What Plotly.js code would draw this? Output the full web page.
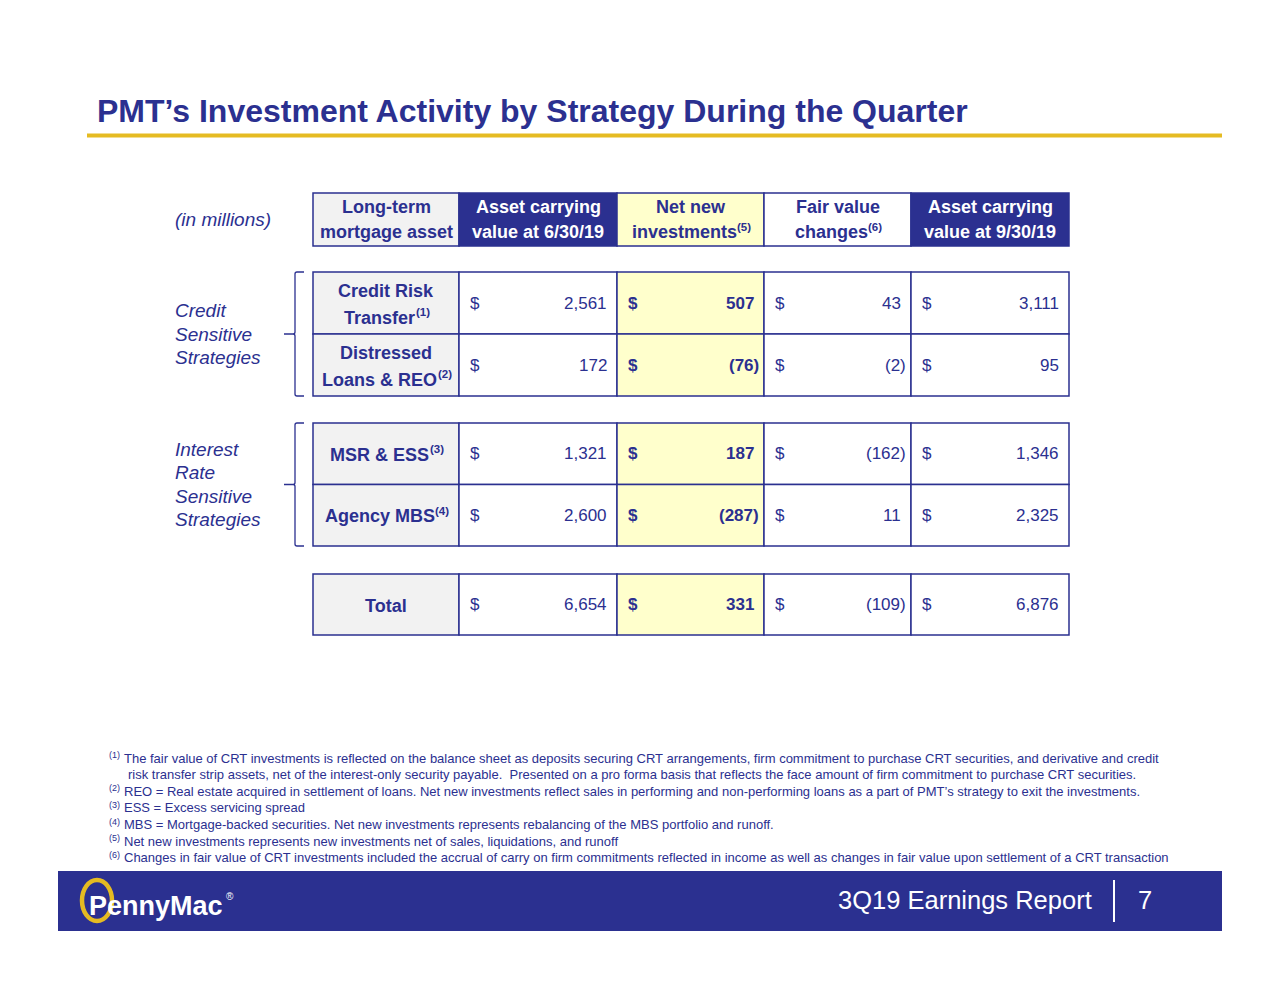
<!DOCTYPE html>
<html><head><meta charset="utf-8">
<script src="https://cdn.plot.ly/plotly-3.0.1.min.js"></script>
<style>html,body{margin:0;padding:0;background:#fff;overflow:hidden}#chart{width:1280px;height:989px}</style>
</head><body><div id="chart"></div>
<script>
// ---------------- DATA ----------------
const slideTitle = "PMT’s Investment Activity by Strategy During the Quarter";
const unitsLabel = "(in millions)";
const headerLines = [["Long-term", "mortgage asset"], ["Asset carrying", "value at 6/30/19"], ["Net new", "investments"], ["Fair value", "changes"], ["Asset carrying", "value at 9/30/19"]];
const headerNotes = ["", "", "(5)", "(6)", ""];
const strategyLines = [["Credit Risk", "Transfer"], ["Distressed", "Loans & REO"], ["MSR & ESS"], ["Agency MBS"]];
const strategyNotes = ["(1)", "(2)", "(3)", "(4)"];
const strategyGroup = [0, 0, 1, 1];
const groupLabels = [["Credit", "Sensitive", "Strategies"], ["Interest", "Rate", "Sensitive", "Strategies"]];
const carryingJun30 = [2561, 172, 1321, 2600];
const netNewInvestments = [507, -76, 187, -287];
const fairValueChanges = [43, -2, -162, 11];
const carryingSep30 = [3111, 95, 1346, 2325];
const totalLabel = "Total";
const totals = [6654, 331, -109, 6876];
const footnoteMarks = ["(1)", "", "(2)", "(3)", "(4)", "(5)", "(6)"];
const footnoteTexts = [
  "The fair value of CRT investments is reflected on the balance sheet as deposits securing CRT arrangements, firm commitment to purchase CRT securities, and derivative and credit",
  "risk transfer strip assets, net of the interest-only security payable.  Presented on a pro forma basis that reflects the face amount of firm commitment to purchase CRT securities.",
  "REO = Real estate acquired in settlement of loans. Net new investments reflect sales in performing and non-performing loans as a part of PMT’s strategy to exit the investments.",
  "ESS = Excess servicing spread",
  "MBS = Mortgage-backed securities. Net new investments represents rebalancing of the MBS portfolio and runoff.",
  "Net new investments represents new investments net of sales, liquidations, and runoff",
  "Changes in fair value of CRT investments included the accrual of carry on firm commitments reflected in income as well as changes in fair value upon settlement of a CRT transaction"
];
const footerText = "3Q19 Earnings Report";
const pageNumber = "7";
const logoText = "PennyMac";

// ---------------- STYLE / LAYOUT ----------------
const NAVY = "#2b3090", GOLD = "#e5bb22", GRAY = "#f2f2f2", YELLOW = "#ffffcc", WHITE = "#ffffff";
const FONT = "Liberation Sans, Arial, Helvetica, sans-serif";
const colEdges = [313, 459, 617, 764, 911, 1069];
const headerBand = [193, 246];
const groupBands = [[272, 396], [423, 546]];
const totalBand = [574, 635];
const headerFills = [GRAY, NAVY, YELLOW, WHITE, NAVY];
const headerTextColors = [NAVY, WHITE, NAVY, NAVY, WHITE];
const bodyFills = [GRAY, WHITE, YELLOW, WHITE, WHITE];
const boldCols = [true, false, true, false, false];
const LABEL_SIZE = 18, SUP_SIZE = 11.5;

const shapes = [];
const ann = [];
function A(o) { ann.push(Object.assign({xref: "x", yref: "y", showarrow: false, borderpad: 0, font: {family: FONT, color: NAVY, size: 17}}, o)); }
function cell(x0, x1, y0, y1, fill) {
  shapes.push({type: "rect", xref: "x", yref: "y", x0, x1, y0, y1, fillcolor: fill, line: {color: NAVY, width: 1.5}, layer: "below"});
}
function fmt(v) { const s = Math.abs(v).toLocaleString("en-US"); return v < 0 ? "(" + s + ")" : s; }
const ctx = document.createElement("canvas").getContext("2d");
function measure(t, size, bold) { ctx.font = (bold ? "bold " : "") + size + "px 'Liberation Sans', Arial, sans-serif"; return ctx.measureText(t).width; }

// centered bold label lines; superscript note attached to the last line
function labelBlock(xc, ym, lines, note, color, gap) {
  lines.forEach((t, i) => {
    const y = ym + (i - (lines.length - 1) / 2) * gap;
    const last = i === lines.length - 1 && note;
    if (!last) {
      A({x: xc, y: y, xanchor: "center", yanchor: "middle", text: "<b>" + t + "</b>", font: {family: FONT, color, size: LABEL_SIZE}});
    } else {
      const w1 = measure(t, LABEL_SIZE, true), w2 = measure(note, SUP_SIZE, true);
      const x0 = xc - (w1 + w2) / 2;
      A({x: x0, y: y, xanchor: "left", yanchor: "middle", text: "<b>" + t + "</b>", font: {family: FONT, color, size: LABEL_SIZE}});
      A({x: x0 + w1 + 0.5, y: y - 5.5, xanchor: "left", yanchor: "middle", text: "<b>" + note + "</b>", font: {family: FONT, color, size: SUP_SIZE}});
    }
  });
}

// title + rule
A({x: 96, y: 111, xanchor: "left", yanchor: "middle", text: "<b>" + slideTitle + "</b>", font: {family: FONT, color: NAVY, size: 32}});
shapes.push({type: "line", xref: "x", yref: "y", x0: 87, x1: 1222, y0: 135.5, y1: 135.5, line: {color: GOLD, width: 4}});

// units label
A({x: 174, y: 219, xanchor: "left", yanchor: "middle", text: "<i>" + unitsLabel + "</i>", font: {family: FONT, color: NAVY, size: 19}});

// header row
headerLines.forEach((h, c) => {
  cell(colEdges[c], colEdges[c + 1], headerBand[0], headerBand[1], headerFills[c]);
  labelBlock((colEdges[c] + colEdges[c + 1]) / 2, (headerBand[0] + headerBand[1]) / 2, h, headerNotes[c], headerTextColors[c], 25);
});

// value row renderer
function valueRow(y0, y1, lines, note, vals) {
  const ym = (y0 + y1) / 2;
  cell(colEdges[0], colEdges[1], y0, y1, bodyFills[0]);
  labelBlock((colEdges[0] + colEdges[1]) / 2, ym + 1, lines, note, NAVY, 27);
  vals.forEach((v, i) => {
    const c = i + 1;
    cell(colEdges[c], colEdges[c + 1], y0, y1, bodyFills[c]);
    const b = boldCols[c];
    const wrap = t => b ? "<b>" + t + "</b>" : t;
    A({x: colEdges[c] + 10, y: ym, xanchor: "left", yanchor: "middle", text: wrap("$"), font: {family: FONT, color: NAVY, size: 17}});
    A({x: colEdges[c + 1] - (v < 0 ? 4 : 9), y: ym, xanchor: "right", yanchor: "middle", text: wrap(fmt(v)), font: {family: FONT, color: NAVY, size: 17}});
  });
}

// body rows grouped
const rowsInGroup = groupBands.map((_, g) => strategyGroup.filter(s => s === g).length);
const seen = groupBands.map(() => 0);
strategyLines.forEach((s, r) => {
  const g = strategyGroup[r];
  const [gy0, gy1] = groupBands[g];
  const h = (gy1 - gy0) / rowsInGroup[g];
  const k = seen[g]++;
  valueRow(gy0 + k * h, gy0 + (k + 1) * h, s, strategyNotes[r], [carryingJun30[r], netNewInvestments[r], fairValueChanges[r], carryingSep30[r]]);
});
valueRow(totalBand[0], totalBand[1], [totalLabel], "", totals);

// brackets + group labels
groupBands.forEach(([y0, y1], g) => {
  const ym = (y0 + y1) / 2;
  shapes.push({type: "path", xref: "x", yref: "y",
    path: `M 304 ${y0} L 297 ${y0} Q 295 ${y0} 295 ${y0 + 2} L 295 ${ym - 2} Q 295 ${ym} 293 ${ym} L 284 ${ym} M 293 ${ym} Q 295 ${ym} 295 ${ym + 2} L 295 ${y1 - 2} Q 295 ${y1} 297 ${y1} L 304 ${y1}`,
    line: {color: NAVY, width: 1.3}});
  const lines = groupLabels[g];
  lines.forEach((t, i) => {
    A({x: 174, y: ym + (i - (lines.length - 1) / 2) * 23.3, xanchor: "left", yanchor: "middle", text: "<i>" + t + "</i>", font: {family: FONT, color: NAVY, size: 19}});
  });
});

// footnotes
footnoteTexts.forEach((t, i) => {
  const y = 758 + i * 16.65;
  if (footnoteMarks[i]) A({x: 108, y: y - 3, xanchor: "left", yanchor: "middle", text: footnoteMarks[i], font: {family: FONT, color: NAVY, size: 9}});
  A({x: footnoteMarks[i] ? 123 : 127, y: y, xanchor: "left", yanchor: "middle", text: t, font: {family: FONT, color: NAVY, size: 13}});
});

// footer bar
shapes.push({type: "rect", xref: "x", yref: "y", x0: 58, x1: 1222, y0: 871, y1: 931, fillcolor: NAVY, line: {width: 0}, layer: "below"});
shapes.push({type: "circle", xref: "x", yref: "y", x0: 82, x1: 112, y0: 880, y1: 921, line: {color: GOLD, width: 4.5}, layer: "above"});
A({x: 88, y: 906, xanchor: "left", yanchor: "middle", text: "<b>" + logoText + "</b>", font: {family: FONT, color: WHITE, size: 27}});
A({x: 225, y: 896, xanchor: "left", yanchor: "middle", text: "®", font: {family: FONT, color: WHITE, size: 10}});
A({x: 1093, y: 900, xanchor: "right", yanchor: "middle", text: footerText, font: {family: FONT, color: WHITE, size: 25.5}});
shapes.push({type: "line", xref: "x", yref: "y", x0: 1114, x1: 1114, y0: 880, y1: 922, line: {color: WHITE, width: 2}, layer: "above"});
A({x: 1145, y: 900, xanchor: "center", yanchor: "middle", text: pageNumber, font: {family: FONT, color: WHITE, size: 25.5}});

const layout = {
  width: 1280, height: 989,
  margin: {l: 0, r: 0, t: 0, b: 0, pad: 0},
  paper_bgcolor: WHITE, plot_bgcolor: WHITE,
  showlegend: false,
  xaxis: {range: [0, 1280], visible: false, fixedrange: true},
  yaxis: {range: [989, 0], visible: false, fixedrange: true},
  shapes: shapes,
  annotations: ann
};
Plotly.newPlot("chart", [], layout, {staticPlot: true, displayModeBar: false});
</script>
</body></html>
